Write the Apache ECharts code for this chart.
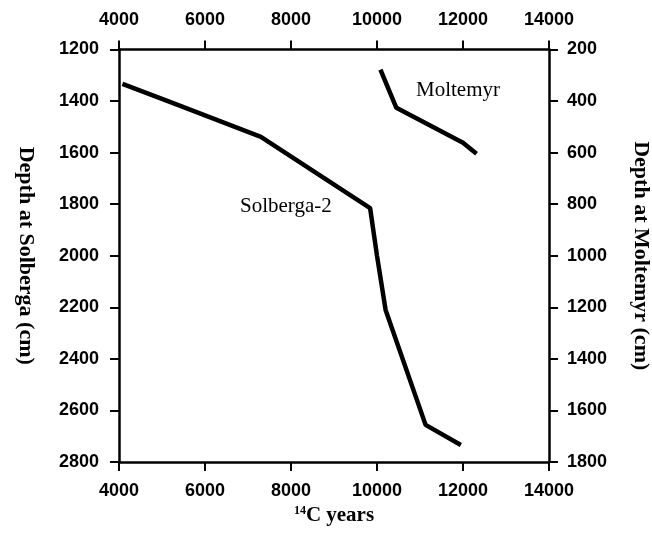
<!DOCTYPE html>
<html>
<head>
<meta charset="utf-8">
<script src="https://cdn.jsdelivr.net/npm/echarts@6/dist/echarts.min.js"></script>
<style>
  html, body { margin: 0; padding: 0; background: #fff; }
  #chart { width: 652px; height: 533px; }
</style>
</head>
<body>
<div id="chart"></div>
<script>
// x ticks (14C years)
const yearTicks = [4000, 6000, 8000, 10000, 12000, 14000]
// Solberga-2 (left axis, depth cm)
const solbergaYears = [4080, 5320, 7300, 9840, 10000, 10200, 11130, 11950]
const solbergaDepth = [1333, 1412, 1539, 1815, 2000, 2210, 2656, 2734]
// Moltemyr (right axis, depth cm)
const moltemyrYears = [10080, 10450, 12000, 12315]
const moltemyrDepth = [278, 426, 562, 604]

const chart = echarts.init(document.getElementById('chart'))

const tickFont = {
  color: '#000',
  fontFamily: 'Liberation Sans',
  fontWeight: 'bold',
  fontSize: 18,
  formatter: v => String(v)
}
const lineStyle = { color: '#000', width: 2.5 }
const tickStyle = { show: true, inside: false, length: 9, lineStyle: { color: '#000', width: 2 } }
const titleFont = { fontFamily: 'Liberation Serif', fontWeight: 'bold', fontSize: 22, color: '#000' }

const option = {
  backgroundColor: '#fff',
  animation: false,
  grid: {
    left: 119, right: 103, top: 49.5, bottom: 71,
    containLabel: false,
    outerBoundsMode: 'none'
  },
  xAxis: [
    {
      type: 'value', position: 'bottom',
      min: yearTicks[0], max: yearTicks[yearTicks.length - 1], interval: 2000,
      axisLine: { show: true, lineStyle: lineStyle },
      axisTick: tickStyle,
      splitLine: { show: false },
      axisLabel: Object.assign({ margin: 20 }, tickFont),
      name: '{sup|14}{t|C years}',
      nameLocation: 'middle',
      nameGap: 42,
      nameTextStyle: {
        rich: {
          sup: { fontFamily: 'Liberation Serif', fontSize: 12, fontWeight: 'bold', color: '#000', verticalAlign: 'top', padding: [0, 0, 9, 0] },
          t: { fontFamily: 'Liberation Serif', fontSize: 21, fontWeight: 'bold', color: '#000' }
        }
      }
    },
    {
      type: 'value', position: 'top',
      min: yearTicks[0], max: yearTicks[yearTicks.length - 1], interval: 2000,
      axisLine: { show: true, lineStyle: lineStyle },
      axisTick: tickStyle,
      splitLine: { show: false },
      axisLabel: Object.assign({ margin: 20 }, tickFont)
    }
  ],
  yAxis: [
    {
      type: 'value', position: 'left', inverse: true,
      min: 1200, max: 2800, interval: 200,
      axisLine: { show: true, lineStyle: lineStyle },
      axisTick: tickStyle,
      splitLine: { show: false },
      axisLabel: Object.assign({ margin: 20 }, tickFont),
      name: 'Depth at Solberga (cm)',
      nameLocation: 'middle',
      nameRotate: -90,
      nameGap: 82,
      nameTextStyle: titleFont
    },
    {
      type: 'value', position: 'right', inverse: true,
      min: 200, max: 1800, interval: 200,
      axisLine: { show: true, lineStyle: lineStyle },
      axisTick: tickStyle,
      splitLine: { show: false },
      axisLabel: Object.assign({ margin: 18 }, tickFont),
      name: 'Depth at Moltemyr (cm)',
      nameLocation: 'middle',
      nameRotate: -90,
      nameGap: 81,
      nameTextStyle: titleFont
    }
  ],
  series: [
    {
      name: 'Solberga-2',
      type: 'line',
      xAxisIndex: 0, yAxisIndex: 0,
      data: solbergaYears.map((x, i) => [x, solbergaDepth[i]]),
      showSymbol: false,
      lineStyle: { color: '#000', width: 4.5 }
    },
    {
      name: 'Moltemyr',
      type: 'line',
      xAxisIndex: 0, yAxisIndex: 1,
      data: moltemyrYears.map((x, i) => [x, moltemyrDepth[i]]),
      showSymbol: false,
      lineStyle: { color: '#000', width: 4.5 }
    }
  ],
  graphic: [
    {
      type: 'text', left: 240, top: 196,
      style: { text: 'Solberga-2', fontFamily: 'Liberation Serif', fontSize: 21, fill: '#000' }
    },
    {
      type: 'text', left: 416, top: 80,
      style: { text: 'Moltemyr', fontFamily: 'Liberation Serif', fontSize: 21, fill: '#000' }
    }
  ]
}

chart.setOption(option)
</script>
</body>
</html>
